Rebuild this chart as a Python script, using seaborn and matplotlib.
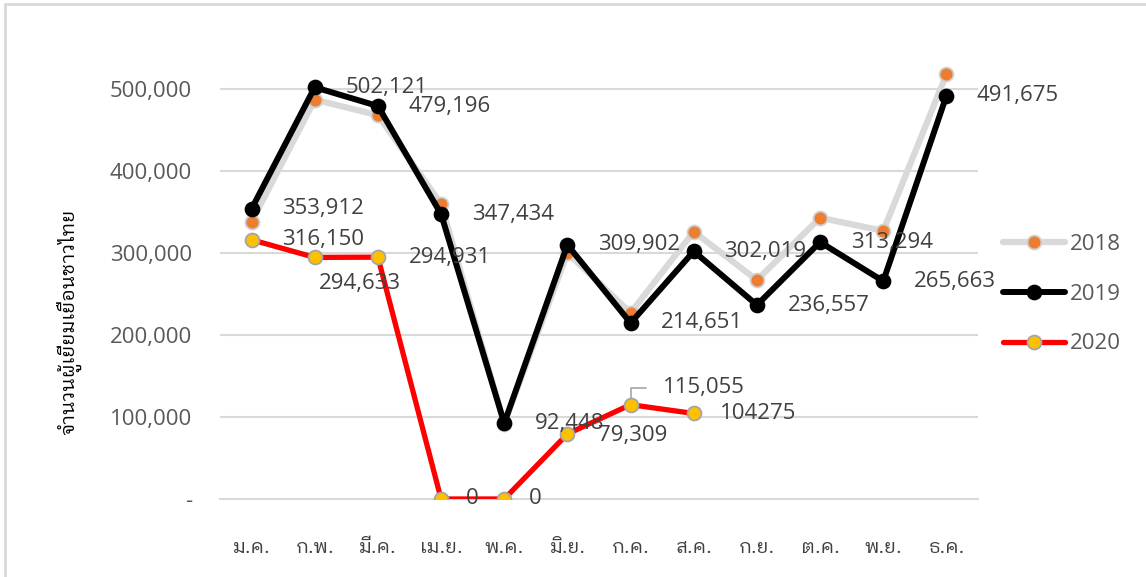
import matplotlib
matplotlib.use("Agg")
import matplotlib.pyplot as plt
from matplotlib import font_manager
from matplotlib.lines import Line2D
import seaborn as sns
import pandas as pd
import numpy as np

months = ["ม.ค.", "ก.พ.", "มี.ค.", "เม.ย.", "พ.ค.", "มิ.ย.",
          "ก.ค.", "ส.ค.", "ก.ย.", "ต.ค.", "พ.ย.", "ธ.ค."]
v2018 = [338000, 487000, 468000, 360000, 92000, 300000,
         227000, 326000, 267000, 343000, 327000, 518000]
v2019 = [353912, 502121, 479196, 347434, 92448, 309902,
         214651, 302019, 236557, 313294, 265663, 491675]
v2020 = [316150, 294633, 294931, 0, 0, 79309, 115055, 104275]
labels2020 = ["316,150", "294,633", "294,931", "0", "0", "79,309", "115,055", "104275"]
yticks = [0, 100000, 200000, 300000, 400000, 500000]
ytick_labels = ["-", "100,000", "200,000", "300,000", "400,000", "500,000"]
ylabel = "จำนวนผู้เยี่ยมเยือนชาวไทย"

sns.set_theme(style="white")

# find a font with Thai glyphs: prefer a looped Thai face in regular weight
thai_family = None
try:
    from fontTools.ttLib import TTFont
    looped = ["looped", "loma", "garuda", "tlwg", "kinnari", "norasi", "umpush",
              "sawasdee", "waree", "purisa", "tahoma"]
    cands = []
    first_family = None
    for fe in font_manager.fontManager.ttflist:
        try:
            tt = TTFont(fe.fname, fontNumber=0, lazy=True)
            cmap = tt.getBestCmap()
            if cmap and 0x0E01 in cmap and 0x0E40 in cmap:
                if first_family is None:
                    first_family = fe.name
                nm = fe.name.lower()
                is_looped = any(k in nm for k in looped) or fe.name == first_family
                w = fe.weight if isinstance(fe.weight, int) else 400
                score = (0 if is_looped else 1, abs(w - 400),
                         0 if fe.style == "normal" else 1)
                cands.append((score, fe.name))
        except Exception:
            pass
    if cands:
        cands.sort()
        thai_family = cands[0][1]
except Exception:
    pass
thai_fams = ([thai_family] if thai_family else []) + ["DejaVu Sans"]
num_fams = ["Open Sans"] + thai_fams
plt.rcParams["font.family"] = num_fams

W, H = 1146, 577
fig = plt.figure(figsize=(W / 100, H / 100), dpi=100)
ax = fig.add_axes([220 / W, 1 - 499 / H, (978 - 220) / W, (499 - 7) / H])

x = np.arange(len(months))
df = pd.DataFrame({"m": np.concatenate([x, x, x[:len(v2020)]]),
                   "v": v2018 + v2019 + v2020,
                   "year": ["2018"] * 12 + ["2019"] * 12 + ["2020"] * len(v2020)})

styles = {
    "2018": dict(color="#D9D9D9", lw=4.5, mfc="#ED7D31", mec="#D0D0D0", ms=10, z=2),
    "2019": dict(color="#000000", lw=4.3, mfc="#000000", mec="#000000", ms=10, z=3),
    "2020": dict(color="#FF0000", lw=3.8, mfc="#FFC000", mec="#A5A5A5", ms=10, z=4),
}
for yr, st in styles.items():
    sub = df[df.year == yr]
    sns.lineplot(data=sub, x="m", y="v", ax=ax, color=st["color"], lw=st["lw"],
                 marker="o", markersize=st["ms"], markerfacecolor=st["mfc"],
                 markeredgecolor=st["mec"], markeredgewidth=1.3, zorder=st["z"],
                 legend=False)

ax.set_xlim(-0.5, 11.5)
ax.set_ylim(0, 600000)
ax.set_yticks(yticks)
ax.set_yticklabels(ytick_labels, fontsize=16, color="#595959")
ax.set_xticks(x)
ax.set_xticklabels(months, fontsize=14, color="#404040", family=thai_fams,
                   fontweight="normal")
ax.set_xticks(np.arange(-0.5, 12, 1), minor=True)
ax.tick_params(axis="x", which="major", length=0, pad=29)
ax.tick_params(axis="x", which="minor", length=11, color="#D9D9D9", width=1.5)
ax.tick_params(axis="y", length=0, pad=20)
ax.set_xlabel("")
ax.set_ylabel("")
for yv in yticks[1:]:
    ax.axhline(yv, color="#D9D9D9", lw=1.5, zorder=0)
for s in ["top", "right", "left"]:
    ax.spines[s].set_visible(False)
ax.spines["bottom"].set_color("#D9D9D9")
ax.spines["bottom"].set_linewidth(1.5)

lab_kw = dict(fontsize=16, color="#404040", va="center", ha="left", zorder=6,
              textcoords="offset points")
for i, v in enumerate(v2019):
    ax.annotate(f"{v:,}", (i, v), xytext=(22, 0), **lab_kw)
offs2020 = [(22, 0), (3, -19), (22, 0), (18, 0), (18, 0), (22, -1), (23, 12), (19, 0)]
for i, (v, t) in enumerate(zip(v2020, labels2020)):
    ax.annotate(t, (i, v), xytext=offs2020[i], **lab_kw)
# leader line for 115,055
lv = v2020[6]
ax.plot([6, 6, 6.24], [lv + 7000, lv + 20000, lv + 20000], color="#A5A5A5",
        lw=1.2, zorder=5)

fig.text(70 / W, 1 - 322 / H, ylabel, rotation=90, fontsize=14, color="#000000",
         ha="center", va="center", family=thai_fams, fontweight="normal")

handles = []
for yr, st in styles.items():
    handles.append(Line2D([0], [0], color=st["color"], lw=st["lw"], marker="o",
                          markersize=st["ms"], markerfacecolor=st["mfc"],
                          markeredgecolor=st["mec"], markeredgewidth=1.3))
fig.legend(handles, list(styles.keys()), loc="center left",
           bbox_to_anchor=(1003 / W, 1 - 294 / H), frameon=False, fontsize=16,
           labelcolor="#595959", handlelength=2.8, handletextpad=0.2,
           labelspacing=1.3, borderaxespad=0, borderpad=0)

# chart border
fig.add_artist(Line2D([5 / W, 5 / W], [0, 1 - 4 / H], color="#D9D9D9", lw=2,
                      transform=fig.transFigure))
fig.add_artist(Line2D([5 / W, 1], [1 - 4 / H, 1 - 4 / H], color="#D9D9D9", lw=2,
                      transform=fig.transFigure))

fig.savefig("out.png", dpi=100)
